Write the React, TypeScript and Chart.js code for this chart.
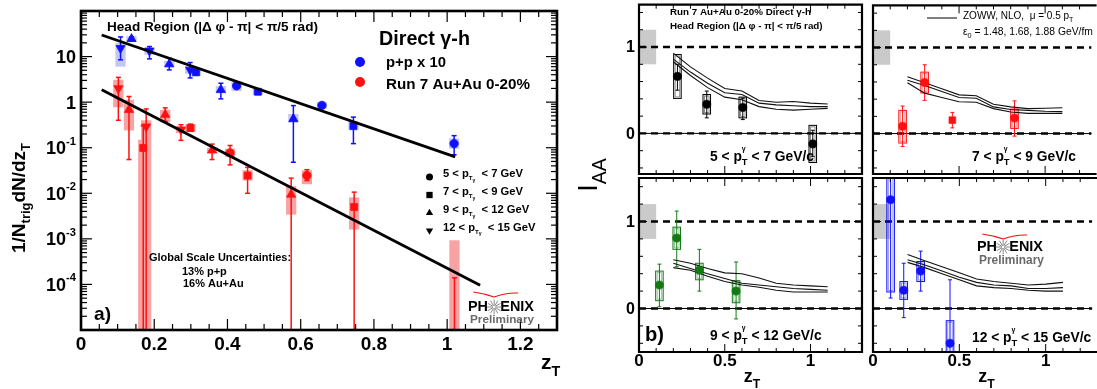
import React, { useEffect, useRef } from "react";
import { Chart, registerables } from "chart.js";

Chart.register(...registerables);

const W = 1097;
const H = 389;
const FF = '"Liberation Sans", Arial, Helvetica, sans-serif';

// ---------------- Panel a): 1/N dN/dzT ----------------
const leftXTicks = [0, 0.2, 0.4, 0.6, 0.8, 1, 1.2];
const leftXLabels = ["0", "0.2", "0.4", "0.6", "0.8", "1", "1.2"];
const leftYTicks = [10, 1, 0.1, 0.01, 0.001, 0.0001];
const leftYBase = ["10", "1", "10", "10", "10", "10"];
const leftYExp = ["", "", "-1", "-2", "-3", "-4"];

// p+p x 10 (blue)
const ppZ = [0.108, 0.138, 0.187, 0.241, 0.298, 0.314, 0.382, 0.425, 0.483, 0.58, 0.658, 0.744, 1.019];
const ppY = [15.3, 24.4, 13.5, 6.8, 5.1, 4.5, 1.87, 2.28, 1.69, 0.43, 0.85, 0.3, 0.123];
const ppELo = [8.5, 22, 8.9, 5.1, 3.4, 4.0, 1.18, 2.1, 1.55, 0.048, 0.8, 0.123, 0.07];
const ppEHi = [27, 27, 16.6, 9.2, 7.4, 5.0, 2.6, 2.5, 1.85, 0.84, 0.9, 0.47, 0.184];
const ppSLo = [6, 21, 11, 5.8, 4.2, 3.8, 1.55, 1.75, 1.45, 0.35, 0.72, 0.24, 0.095];
const ppSHi = [20, 28, 15.5, 8, 6.2, 5.3, 2.25, 2.85, 2.0, 0.55, 1.0, 0.38, 0.16];
const ppShape = ["down", "up", "down", "up", "down", "square", "up", "circle", "square", "up", "circle", "square", "circle"];

// Run 7 Au+Au 0-20% (red)
const aaZ = [0.102, 0.131, 0.17, 0.178, 0.23, 0.273, 0.299, 0.358, 0.407, 0.455, 0.574, 0.617, 0.746, 1.02];
const aaY = [2.0, 0.68, 0.099, 0.29, 0.53, 0.25, 0.27, 0.088, 0.077, 0.0245, 0.0094, 0.0245, 0.005, 1e-7];
const aaELo = [0.4, 0.055, 1e-7, 1e-7, 0.38, 0.145, 0.23, 0.055, 0.042, 0.01, 1e-7, 0.019, 1e-7, 1e-7];
const aaEHi = [3.5, 1.33, 0.3, 0.71, 0.75, 0.32, 0.33, 0.12, 0.112, 0.037, 0.0215, 0.033, 0.0106, 1.4e-4];
const aaSLo = [0.77, 0.24, 1e-7, 1e-7, 0.36, 0.21, 0.22, 0.075, 0.063, 0.019, 0.0034, 0.0158, 0.0016, 1e-7];
const aaSHi = [3.1, 1.13, 0.15, 0.4, 0.68, 0.29, 0.33, 0.1, 0.095, 0.032, 0.0143, 0.032, 0.0081, 9.3e-4];
const aaShape = ["down", "up", "square", "down", "up", "down", "square", "up", "circle", "square", "up", "circle", "square", "circle"];

// exponential fits
const ppFitZ = [0.0565, 1.022];
const ppFitY = [29.8, 0.063];
const aaFitZ = [0.0565, 1.09];
const aaFitY = [1.87, 9.6e-5];

// ---------------- Panel b): I_AA ----------------
const iaaYTicks = [0, 1];
const iaaYLabels = ["0", "1"];
const iaaXTicks = [0, 0.5, 1];
const iaaXLabels = ["0", "0.5", "1"];
const thZ = [0.2, 0.3, 0.4, 0.5, 0.6, 0.7, 0.8, 0.9, 1.0, 1.1];

// 5 < pT < 7
const p1Z = [0.224, 0.395, 0.605, 1.013];
const p1V = [0.66, 0.337, 0.3, -0.122];
const p1ELo = [0.5, 0.18, 0.16, -0.27];
const p1EHi = [0.8, 0.49, 0.41, 0.036];
const p1SLo = [0.405, 0.225, 0.18, -0.337];
const p1SHi = [0.913, 0.45, 0.42, 0.093];
const p1Shape = ["circle", "circle", "circle", "circle"];
const p1ThA = [0.93, 0.77, 0.64, 0.52, 0.49, 0.38, 0.36, 0.37, 0.35, 0.34];
const p1ThB = [0.86, 0.71, 0.58, 0.47, 0.45, 0.35, 0.33, 0.32, 0.31, 0.31];
const p1ThC = [0.83, 0.67, 0.53, 0.42, 0.39, 0.31, 0.28, 0.27, 0.28, 0.29];

// 7 < pT < 9
const p2Z = [0.172, 0.3, 0.461, 0.822];
const p2V = [0.085, 0.593, 0.156, 0.18];
const p2ELo = [-0.15, 0.386, 0.066, -0.03];
const p2EHi = [0.32, 0.8, 0.246, 0.38];
const p2SLo = [-0.11, 0.472, 0.156, 0.06];
const p2SHi = [0.27, 0.714, 0.156, 0.285];
const p2Shape = ["circle", "circle", "rect", "circle"];
const p2ThA = [0.66, 0.59, 0.52, 0.45, 0.44, 0.34, 0.31, 0.29, 0.295, 0.3];
const p2ThB = [0.62, 0.56, 0.49, 0.42, 0.41, 0.31, 0.28, 0.27, 0.26, 0.255];
const p2ThC = [0.59, 0.47, 0.42, 0.37, 0.365, 0.29, 0.25, 0.235, 0.235, 0.235];

// 9 < pT < 12
const p3Z = [0.119, 0.22, 0.352, 0.566];
const p3V = [0.27, 0.81, 0.44, 0.2];
const p3ELo = [0.02, 0.48, 0.2, -0.12];
const p3EHi = [0.51, 1.12, 0.68, 0.535];
const p3SLo = [0.09, 0.68, 0.33, 0.066];
const p3SHi = [0.43, 0.935, 0.52, 0.32];
const p3Shape = ["circle", "circle", "circle", "circle"];
const p3ThA = [0.56, 0.52, 0.46, 0.41, 0.4, 0.35, 0.29, 0.27, 0.26, 0.25];
const p3ThB = [0.52, 0.46, 0.4, 0.345, 0.29, 0.27, 0.25, 0.23, 0.22, 0.21];
const p3ThC = [0.47, 0.44, 0.37, 0.31, 0.27, 0.245, 0.21, 0.19, 0.19, 0.19];

// 12 < pT < 15
const p4Z = [0.102, 0.178, 0.276, 0.446];
const p4V = [1.25, 0.21, 0.43, -0.4];
const p4ELo = [0.12, -0.105, 0.2, -0.7];
const p4EHi = [1.7, 0.52, 0.66, 0.33];
const p4SLo = [0.19, 0.105, 0.31, -0.7];
const p4SHi = [1.7, 0.31, 0.54, -0.14];
const p4Shape = ["circle", "circle", "circle", "circle"];
const p4ThA = [0.62, 0.55, 0.48, 0.41, 0.34, 0.31, 0.29, 0.27, 0.28, 0.3];
const p4ThB = [0.56, 0.5, 0.43, 0.36, 0.3, 0.27, 0.26, 0.23, 0.23, 0.24];
const p4ThC = [0.53, 0.47, 0.4, 0.33, 0.26, 0.24, 0.23, 0.21, 0.2, 0.2];

// ---------------- styling ----------------
const BLUE = "#1010ff";
const RED = "#ff1010";
const GREEN = "#137a13";
const PP_BOX = "#c3c7f4";
const AA_BOX = "#f8a3a3";

type Seg = { t: string; s?: number; dy?: number; adv?: boolean; color?: string; w?: string };

function segFont(size: number, weight: string, g: Seg) {
  return `${g.w ?? weight} ${(size * (g.s ?? 1)).toFixed(2)}px ${FF}`;
}
function richWidth(ctx: any, segs: Seg[], size: number, weight: string) {
  let w = 0;
  for (const g of segs) {
    ctx.font = segFont(size, weight, g);
    if (g.adv !== false) w += ctx.measureText(g.t).width;
  }
  return w;
}
function drawRich(ctx: any, segs: Seg[], x: number, y: number, size: number, o: any = {}) {
  const weight = o.weight ?? "bold";
  let s = size;
  if (o.fit) s = (size * o.fit) / richWidth(ctx, segs, size, weight);
  const w = richWidth(ctx, segs, s, weight);
  const align = o.align ?? "left";
  let cx = align === "left" ? x : align === "center" ? x - w / 2 : x - w;
  ctx.textAlign = "left";
  ctx.textBaseline = "middle";
  for (const g of segs) {
    ctx.font = segFont(s, weight, g);
    ctx.fillStyle = g.color ?? o.color ?? "#000";
    ctx.fillText(g.t, cx, y + (g.dy ?? 0) * s);
    if (g.adv !== false) cx += ctx.measureText(g.t).width;
  }
  return s;
}
function line(ctx: any, x1: number, y1: number, x2: number, y2: number) {
  ctx.beginPath();
  ctx.moveTo(x1, y1);
  ctx.lineTo(x2, y2);
  ctx.stroke();
}
function clipArea(ctx: any, a: any) {
  ctx.beginPath();
  ctx.rect(a.left, a.top, a.right - a.left, a.bottom - a.top);
  ctx.clip();
}
function drawMarker(ctx: any, shape: string, x: number, y: number, r: number, color: string) {
  ctx.fillStyle = color;
  ctx.beginPath();
  if (shape === "circle") ctx.arc(x, y, r, 0, Math.PI * 2);
  else if (shape === "square") ctx.rect(x - r * 0.75, y - r * 0.75, r * 1.5, r * 1.5);
  else {
    const sgn = shape === "up" ? 1 : -1;
    ctx.moveTo(x, y - sgn * r);
    ctx.lineTo(x + r * 0.87, y + sgn * r * 0.5);
    ctx.lineTo(x - r * 0.87, y + sgn * r * 0.5);
    ctx.closePath();
  }
  ctx.fill();
}
function drawPhenix(ctx: any, x: number, y: number, w: number, y2: number, w2: number, arcY: number) {
  ctx.font = `bold 10px ${FF}`;
  const a0 = ctx.measureText("PH").width;
  const b0 = ctx.measureText("ENIX").width;
  const g0 = 8.5;
  const s = (10 * w) / (a0 + b0 + g0);
  ctx.font = `bold ${s}px ${FF}`;
  const wa = ctx.measureText("PH").width;
  const gap = (g0 * s) / 10;
  ctx.fillStyle = "#000";
  ctx.textBaseline = "middle";
  ctx.textAlign = "left";
  ctx.fillText("PH", x, y);
  ctx.fillText("ENIX", x + wa + gap, y);
  const cx = x + wa + gap / 2;
  const cy = y;
  const R = gap * 0.6;
  ctx.strokeStyle = "#8a8a8a";
  ctx.lineWidth = 1;
  for (let k = 0; k < 12; k++) {
    const t = (k * Math.PI) / 6;
    line(ctx, cx + Math.cos(t) * 1.3, cy + Math.sin(t) * 1.3, cx + Math.cos(t) * R, cy + Math.sin(t) * R);
  }
  drawRich(ctx, [{ t: "Preliminary" }], x + 2, y2, 12, { fit: w2, color: "#6a6a6a" });
  ctx.strokeStyle = "#ee1111";
  ctx.lineWidth = 1.1;
  const ax0 = x + 0.08 * w;
  const ax1 = x + 0.76 * w;
  ctx.beginPath();
  ctx.moveTo(ax0, arcY);
  ctx.quadraticCurveTo((ax0 + cx) / 2, arcY + 1.5, cx, arcY + 5);
  ctx.quadraticCurveTo((cx + ax1) / 2, arcY + 0.5, ax1, arcY + 1);
  ctx.stroke();
}

const styleOf = (s: string) => (s === "circle" ? "circle" : s === "square" || s === "rect" ? "rect" : "triangle");
const rotOf = (s: string) => (s === "down" ? 180 : 0);
const radOf = (s: string) => (s === "circle" ? 4.2 : s === "square" || s === "rect" ? 4.9 : 5.3);
const pts = (zs: number[], ys: number[]) => zs.map((z, i) => ({ x: z, y: ys[i] }));

function baseOptions(a: any) {
  return {
    animation: false,
    responsive: false,
    maintainAspectRatio: false,
    events: [],
    layout: { padding: { left: a.l, top: a.t, right: W - a.r, bottom: H - a.b } },
    plugins: { legend: { display: false }, tooltip: { enabled: false }, title: { display: false } },
  };
}

// ---------------- left chart ----------------
const leftArea = { l: 81, t: 11, r: 557, b: 330 };

const leftPlugin = {
  id: "leftDecor",
  beforeDatasetsDraw(chart: any) {
    const { ctx, chartArea: a } = chart;
    const x = chart.scales.x;
    const y = chart.scales.y;
    ctx.save();
    clipArea(ctx, a);
    const box = (z: number, lo: number, hi: number, col: string) => {
      const px = x.getPixelForValue(z);
      const hw = x.getPixelForValue(z + 0.014) - px;
      const y1 = y.getPixelForValue(hi);
      const y2 = y.getPixelForValue(lo);
      ctx.fillStyle = col;
      ctx.fillRect(px - hw, y1, 2 * hw, y2 - y1);
    };
    ppZ.forEach((z, i) => box(z, ppSLo[i], ppSHi[i], PP_BOX));
    aaZ.forEach((z, i) => box(z, aaSLo[i], aaSHi[i], AA_BOX));
    const err = (z: number, lo: number, hi: number, col: string) => {
      const px = x.getPixelForValue(z);
      const y1 = y.getPixelForValue(hi);
      const y2 = y.getPixelForValue(lo);
      ctx.strokeStyle = col;
      ctx.lineWidth = 1.5;
      line(ctx, px, y1, px, y2);
      line(ctx, px - 2.5, y1, px + 2.5, y1);
      line(ctx, px - 2.5, y2, px + 2.5, y2);
    };
    ppZ.forEach((z, i) => err(z, ppELo[i], ppEHi[i], BLUE));
    aaZ.forEach((z, i) => err(z, aaELo[i], aaEHi[i], RED));
    ctx.restore();
  },
  afterDraw(chart: any) {
    const { ctx, chartArea: a } = chart;
    const x = chart.scales.x;
    const y = chart.scales.y;
    ctx.save();
    ctx.strokeStyle = "#000";
    ctx.lineWidth = 1.2;
    for (let i = 0; i <= 26; i++) {
      const v = i * 0.05;
      const px = x.getPixelForValue(v);
      const len = i % 4 === 0 ? 11 : 6;
      line(ctx, px, a.bottom, px, a.bottom - len);
      line(ctx, px, a.top, px, a.top + len);
    }
    for (let d = -5; d <= 2; d++) {
      for (let k = 1; k <= 9; k++) {
        const v = k * Math.pow(10, d);
        if (v < 0.99e-5 || v > 100.1) continue;
        const py = y.getPixelForValue(v);
        const len = k === 1 ? 11 : 6;
        line(ctx, a.left, py, a.left + len, py);
        line(ctx, a.right, py, a.right - len, py);
      }
    }
    ctx.lineWidth = 2.6;
    ctx.strokeRect(a.left, a.top, a.right - a.left, a.bottom - a.top);

    leftXTicks.forEach((v, i) => {
      drawRich(ctx, [{ t: leftXLabels[i] }], x.getPixelForValue(v), 345, 19, { align: "center" });
    });
    leftYTicks.forEach((v, i) => {
      const segs: Seg[] = [{ t: leftYBase[i] }];
      if (leftYExp[i]) segs.push({ t: leftYExp[i], s: 0.62, dy: -0.42 });
      drawRich(ctx, segs, 76, y.getPixelForValue(v) + 1.5, 18, { align: "right" });
    });

    // axis titles
    ctx.save();
    ctx.translate(20, 198);
    ctx.rotate(-Math.PI / 2);
    drawRich(
      ctx,
      [{ t: "1/N" }, { t: "trig", s: 0.68, dy: 0.32 }, { t: "dN/dz" }, { t: "T", s: 0.68, dy: 0.32 }],
      0, 0, 17, { align: "center", fit: 110 }
    );
    ctx.restore();
    drawRich(ctx, [{ t: "z" }, { t: "T", s: 0.68, dy: 0.42 }], 541, 363, 21);

    // texts
    drawRich(ctx, [{ t: "Head Region (|Δ φ - π| < π/5 rad)" }], 107, 27.5, 14, { fit: 211 });
    drawRich(ctx, [{ t: "Direct γ-h" }], 379, 40, 20, { fit: 91 });
    drawMarker(ctx, "circle", 360, 62, 5, BLUE);
    drawMarker(ctx, "circle", 360, 82, 5, RED);
    drawRich(ctx, [{ t: "p+p x 10" }], 386, 63, 15, { fit: 60 });
    drawRich(ctx, [{ t: "Run 7 Au+Au 0-20%" }], 386, 85, 15, { fit: 144 });

    const rows = [["5", "7"], ["7", "9"], ["9", "12"], ["12", "15"]];
    const shapes = ["circle", "square", "up", "down"];
    const rowY = [174, 192, 210, 227.5];
    let rs = 0;
    rows.forEach((r, i) => {
      const segs: Seg[] = [
        { t: `${r[0]} < p` },
        { t: "T", s: 0.55, dy: 0.4 },
        { t: "γ", s: 0.45, dy: 0.58 },
        { t: `  < ${r[1]} GeV` },
      ];
      if (i === 0) rs = drawRich(ctx, segs, 443, rowY[i], 11, { fit: 80 });
      else drawRich(ctx, segs, 443, rowY[i], rs);
      drawMarker(ctx, shapes[i], 429.5, rowY[i] + 3, shapes[i] === "circle" ? 3.5 : 4.2, "#000");
    });

    const gs = drawRich(ctx, [{ t: "Global Scale Uncertainties:" }], 149, 258, 10, { fit: 142 });
    drawRich(ctx, [{ t: "13% p+p" }], 182, 271.5, gs);
    drawRich(ctx, [{ t: "16% Au+Au" }], 183, 284, gs);
    drawRich(ctx, [{ t: "a)" }], 94, 315, 22, { fit: 17 });
    drawPhenix(ctx, 468, 307, 66, 319.5, 64, 292);
    ctx.restore();
  },
};

function leftConfig() {
  return {
    type: "scatter",
    data: {
      datasets: [
        { type: "line", data: pts(ppFitZ, ppFitY), borderColor: "#000", borderWidth: 2.8, pointRadius: 0, tension: 0, fill: false },
        { type: "line", data: pts(aaFitZ, aaFitY), borderColor: "#000", borderWidth: 2.8, pointRadius: 0, tension: 0, fill: false },
        {
          type: "scatter",
          data: pts(ppZ, ppY),
          pointStyle: ppShape.map(styleOf),
          pointRotation: ppShape.map(rotOf),
          pointRadius: ppShape.map(radOf),
          pointBackgroundColor: BLUE,
          pointBorderColor: BLUE,
          pointBorderWidth: 0.8,
          clip: 2,
        },
        {
          type: "scatter",
          data: pts(aaZ, aaY),
          pointStyle: aaShape.map(styleOf),
          pointRotation: aaShape.map(rotOf),
          pointRadius: aaShape.map(radOf),
          pointBackgroundColor: RED,
          pointBorderColor: RED,
          pointBorderWidth: 0.8,
          clip: 2,
        },
      ],
    },
    options: {
      ...baseOptions(leftArea),
      scales: {
        x: { type: "linear", min: 0, max: 1.3, display: false },
        y: { type: "logarithmic", min: 1e-5, max: 100, display: false },
      },
    },
    plugins: [leftPlugin],
  };
}

// ---------------- I_AA panels ----------------
const ptSegs = (lo: string, hi: string): Seg[] => [
  { t: `${lo} < p` },
  { t: "γ", s: 0.5, dy: -0.55, adv: false },
  { t: "T", s: 0.68, dy: 0.38 },
  { t: ` < ${hi} GeV/c` },
];
let PT_SIZE = 0;
function ptSize(ctx: any) {
  if (!PT_SIZE) PT_SIZE = (15 * 104) / richWidth(ctx, ptSegs("7", "9"), 15, "bold");
  return PT_SIZE;
}

function iaaConfig(p: any) {
  const plugin = {
    id: "iaaDecor" + p.id,
    beforeDatasetsDraw(chart: any) {
      const { ctx, chartArea: a } = chart;
      const x = chart.scales.x;
      const y = chart.scales.y;
      ctx.save();
      clipArea(ctx, a);
      // global scale band
      ctx.fillStyle = "#cacaca";
      const gx1 = x.getPixelForValue(0);
      const gx2 = x.getPixelForValue(0.1);
      const gy1 = y.getPixelForValue(1.2);
      const gy2 = y.getPixelForValue(0.8);
      ctx.fillRect(gx1, gy1, gx2 - gx1, gy2 - gy1);
      // reference lines
      ctx.strokeStyle = "#000";
      ctx.lineWidth = 1;
      line(ctx, a.left, y.getPixelForValue(0), a.right, y.getPixelForValue(0));
      ctx.setLineDash([7, 5]);
      ctx.lineWidth = 2.4;
      line(ctx, a.left, y.getPixelForValue(0), a.right, y.getPixelForValue(0));
      line(ctx, a.left, y.getPixelForValue(1), a.right, y.getPixelForValue(1));
      ctx.setLineDash([]);
      // systematic boxes
      p.z.forEach((z: number, i: number) => {
        if (p.sHi[i] === p.sLo[i]) return;
        const px = x.getPixelForValue(z);
        const hw = x.getPixelForValue(z + 0.022) - px;
        const y1 = y.getPixelForValue(p.sHi[i]);
        const y2 = y.getPixelForValue(p.sLo[i]);
        ctx.strokeStyle = p.color;
        ctx.lineWidth = 1;
        ctx.globalAlpha = 1;
        ctx.strokeRect(px - hw, y1, 2 * hw, y2 - y1);
        ctx.globalAlpha = 0.45;
        ctx.strokeRect(px - hw + 1.5, y1 + 1.5, 2 * hw - 3, y2 - y1 - 3);
        ctx.globalAlpha = 1;
      });
      // stat errors
      ctx.strokeStyle = p.color;
      ctx.lineWidth = 1;
      p.z.forEach((z: number, i: number) => {
        const px = x.getPixelForValue(z);
        const y1 = y.getPixelForValue(p.eHi[i]);
        const y2 = y.getPixelForValue(p.eLo[i]);
        line(ctx, px, y1, px, y2);
        line(ctx, px - 2, y1, px + 2, y1);
        line(ctx, px - 2, y2, px + 2, y2);
      });
      ctx.restore();
    },
    afterDraw(chart: any) {
      const { ctx, chartArea: a } = chart;
      const x = chart.scales.x;
      const y = chart.scales.y;
      ctx.save();
      ctx.strokeStyle = "#000";
      ctx.lineWidth = 1;
      for (let i = 0; i <= 13; i++) {
        const v = i * 0.1;
        if (v > p.xmax + 1e-6) continue;
        const px = x.getPixelForValue(v);
        const len = i % 5 === 0 ? 8 : 4;
        line(ctx, px, a.bottom, px, a.bottom - len);
        line(ctx, px, a.top, px, a.top + len);
      }
      for (let i = -2; i <= 7; i++) {
        const v = i * 0.2;
        const py = y.getPixelForValue(v);
        const len = i === 0 || i === 5 ? 8 : 4;
        line(ctx, a.left, py, a.left + len, py);
        if (p.rightBorder) line(ctx, a.right, py, a.right - len, py);
      }
      ctx.lineWidth = 2.2;
      ctx.beginPath();
      ctx.moveTo(a.right + (p.rightBorder ? 0 : 5), a.top);
      ctx.lineTo(a.left, a.top);
      ctx.lineTo(a.left, a.bottom);
      ctx.lineTo(a.right + (p.rightBorder ? 0 : 5), a.bottom);
      if (p.rightBorder) ctx.closePath();
      ctx.stroke();

      if (p.leftLabels) {
        iaaYTicks.forEach((v, i) =>
          drawRich(ctx, [{ t: iaaYLabels[i] }], 635, y.getPixelForValue(v) + 1, 16, { align: "right" })
        );
      }
      if (p.bottomLabels) {
        iaaXTicks.forEach((v, i) =>
          drawRich(ctx, [{ t: iaaXLabels[i] }], x.getPixelForValue(v), 361, 17, { align: "center" })
        );
        drawRich(ctx, [{ t: "z" }, { t: "T", s: 0.68, dy: 0.42 }], x.getPixelForValue(0.61), 377, 18);
      }
      drawRich(ctx, ptSegs(p.ptLo, p.ptHi), p.ptX, p.ptY, ptSize(ctx));
      if (p.extra) p.extra(ctx, chart);
      ctx.restore();
    },
  };
  const datasets: any[] = [
    {
      type: "scatter",
      data: pts(p.z, p.v),
      pointStyle: p.shapes.map(styleOf),
      pointRadius: p.shapes.map((s: string) => (s === "rect" ? 4.8 : 4.1)),
      pointBackgroundColor: p.color,
      pointBorderColor: p.color,
      pointBorderWidth: 0.6,
      clip: 1,
    },
    ...[p.thA, p.thB, p.thC].map((arr: number[]) => ({
      type: "line",
      data: pts(thZ, arr),
      borderColor: "#111",
      borderWidth: 1.1,
      pointRadius: 0,
      tension: 0,
      fill: false,
    })),
  ];
  return {
    type: "scatter",
    data: { datasets },
    options: {
      ...baseOptions(p.area),
      scales: {
        x: { type: "linear", min: 0, max: p.xmax, display: false },
        y: { type: "linear", min: p.ymin, max: p.ymax, display: false },
      },
    },
    plugins: [plugin],
  };
}

const panels = [
  {
    id: "TL", area: { l: 639, t: 1, r: 862, b: 174 }, xmax: 1.3, ymin: -0.47, ymax: 1.49, color: "#000",
    z: p1Z, v: p1V, eLo: p1ELo, eHi: p1EHi, sLo: p1SLo, sHi: p1SHi, shapes: p1Shape, thA: p1ThA, thB: p1ThB, thC: p1ThC,
    leftLabels: true, bottomLabels: false, rightBorder: true, ptLo: "5", ptHi: "7", ptX: 710, ptY: 157,
    extra: (ctx: any) => {
      const s = drawRich(ctx, [{ t: "Run 7 Au+Au 0-20% Direct γ-h" }], 670, 12, 10, { fit: 141 });
      drawRich(ctx, [{ t: "Head Region (|Δ φ - π| < π/5 rad)" }], 670, 26, s);
      ctx.save();
      ctx.translate(590, 175);
      ctx.rotate(-Math.PI / 2);
      drawRich(ctx, [{ t: "I" }, { t: "AA", s: 0.72, dy: 0.4 }], 0, 0, 27, { align: "center", weight: "normal" });
      ctx.restore();
    },
  },
  {
    id: "TR", area: { l: 873, t: 1, r: 1097, b: 174 }, xmax: 1.27, ymin: -0.47, ymax: 1.49, color: RED,
    z: p2Z, v: p2V, eLo: p2ELo, eHi: p2EHi, sLo: p2SLo, sHi: p2SHi, shapes: p2Shape, thA: p2ThA, thB: p2ThB, thC: p2ThC,
    leftLabels: false, bottomLabels: false, rightBorder: false, ptLo: "7", ptHi: "9", ptX: 972, ptY: 157,
    extra: (ctx: any) => {
      ctx.strokeStyle = "#000";
      ctx.lineWidth = 1;
      line(ctx, 927, 18, 957, 18);
      drawRich(ctx, [{ t: "ZOWW, NLO,  μ = 0.5 p" }, { t: "T", s: 0.7, dy: 0.45 }], 963, 16, 10, { weight: "normal" });
      drawRich(ctx, [{ t: "ε" }, { t: "0", s: 0.7, dy: 0.4 }, { t: " = 1.48, 1.68, 1.88 GeV/fm" }], 963, 32, 10, { weight: "normal", fit: 130 });
    },
  },
  {
    id: "BL", area: { l: 639, t: 178, r: 862, b: 352 }, xmax: 1.3, ymin: -0.5, ymax: 1.5, color: GREEN,
    z: p3Z, v: p3V, eLo: p3ELo, eHi: p3EHi, sLo: p3SLo, sHi: p3SHi, shapes: p3Shape, thA: p3ThA, thB: p3ThB, thC: p3ThC,
    leftLabels: true, bottomLabels: true, rightBorder: true, ptLo: "9", ptHi: "12", ptX: 710, ptY: 336,
    extra: (ctx: any) => {
      drawRich(ctx, [{ t: "b)" }], 645, 335, 22, { fit: 19 });
    },
  },
  {
    id: "BR", area: { l: 873, t: 178, r: 1097, b: 352 }, xmax: 1.27, ymin: -0.5, ymax: 1.5, color: BLUE,
    z: p4Z, v: p4V, eLo: p4ELo, eHi: p4EHi, sLo: p4SLo, sHi: p4SHi, shapes: p4Shape, thA: p4ThA, thB: p4ThB, thC: p4ThC,
    leftLabels: false, bottomLabels: true, rightBorder: false, ptLo: "12", ptHi: "15", ptX: 972, ptY: 338,
    extra: (ctx: any) => {
      drawPhenix(ctx, 977, 247, 66, 261, 65, 234);
    },
  },
];

export default function App() {
  const r0 = useRef<HTMLCanvasElement>(null);
  const r1 = useRef<HTMLCanvasElement>(null);
  const r2 = useRef<HTMLCanvasElement>(null);
  const r3 = useRef<HTMLCanvasElement>(null);
  const r4 = useRef<HTMLCanvasElement>(null);
  const refs = [r0, r1, r2, r3, r4];

  useEffect(() => {
    const charts: Chart[] = [];
    charts.push(new Chart(r0.current as any, leftConfig() as any));
    panels.forEach((p, i) => {
      charts.push(new Chart(refs[i + 1].current as any, iaaConfig(p) as any));
    });
    return () => charts.forEach((c) => c.destroy());
  }, []);

  return (
    <div style={{ position: "absolute", left: 0, top: 0, width: W, height: H, overflow: "hidden", background: "#fff" }}>
      {refs.map((r, i) => (
        <canvas
          key={i}
          ref={r}
          width={W}
          height={H}
          style={{ position: "absolute", left: 0, top: 0, width: W, height: H }}
        />
      ))}
    </div>
  );
}
